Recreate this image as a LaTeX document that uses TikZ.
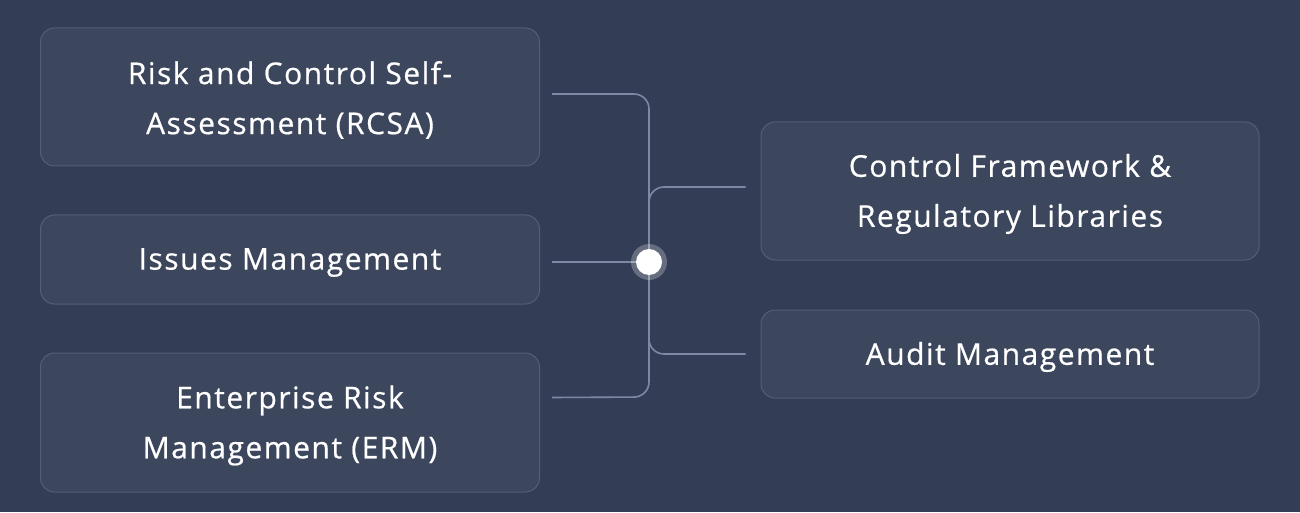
\documentclass[tikz,border=0pt]{standalone}
\usepackage{fontspec}
\setmainfont{Open Sans}[LetterSpace=5,FakeBold=0.6]
\definecolor{bg}{HTML}{333D55}
\definecolor{boxfill}{HTML}{3C465D}
\definecolor{boxline}{HTML}{545E74}
\definecolor{wire}{HTML}{7D89A4}
\begin{document}
\begin{tikzpicture}[x=1pt,y=1pt,
  card/.style={draw=boxline,line width=1pt,fill=boxfill,rounded corners=14pt,minimum width=499pt,inner sep=0pt},
  cardtext/.style={align=center,text=white,font=\fontsize{30}{50}\selectfont,inner sep=0pt},
  wireline/.style={draw=wire,line width=1.6pt,rounded corners=15pt}]
\fill[bg] (0,0) rectangle (1300,512);
\useasboundingbox (0,0) rectangle (1300,512);
\node[card,minimum height=138pt] (rcsa) at (290,415) {};
\node[card,minimum height=89pt] (issues) at (290,252.5) {};
\node[card,minimum height=139pt] (erm) at (290,89.5) {};
\node[card,minimum height=138pt,minimum width=498pt] (cfr) at (1010,321) {};
\node[card,minimum height=88pt,minimum width=498pt] (audit) at (1010,158) {};
\node[cardtext] (rcsat) at ([yshift=-3pt]rcsa.center) {Risk and Control Self-\\Assessment (RCSA)};
\node[cardtext] (issuest) at ([yshift=-3pt]issues.center) {Issues Management};
\node[cardtext] (ermt) at ([yshift=-3pt]erm.center) {Enterprise Risk\\Management (ERM)};
\node[cardtext] (cfrt) at ([yshift=-3pt]cfr.center) {Control Framework \&\\Regulatory Libraries};
\node[cardtext] (auditt) at ([yshift=-3pt]audit.center) {Audit Management};
\coordinate (hub) at (649,250);
\draw[wireline] ([xshift=12pt]rcsa.east) ++(0,3) coordinate (s1) -- (649,418) -- (hub);
\draw[wireline] ([xshift=12pt]erm.east) ++(0,25) coordinate (s3) -- (649,115) -- (hub);
\draw[wireline] ([xshift=12pt]issues.east) ++(0,-2.5) coordinate (s2) -- (hub);
\draw[wireline] ([xshift=-15pt]cfr.west) ++(0,4) coordinate (t1) -- (649,325) -- (hub);
\draw[wireline] ([xshift=-15pt]audit.west) coordinate (t2) -- (649,158) -- (hub);
\fill[white,opacity=0.25] (hub) circle (18pt);
\fill[white] (hub) circle (13pt);
\end{tikzpicture}
\end{document}
